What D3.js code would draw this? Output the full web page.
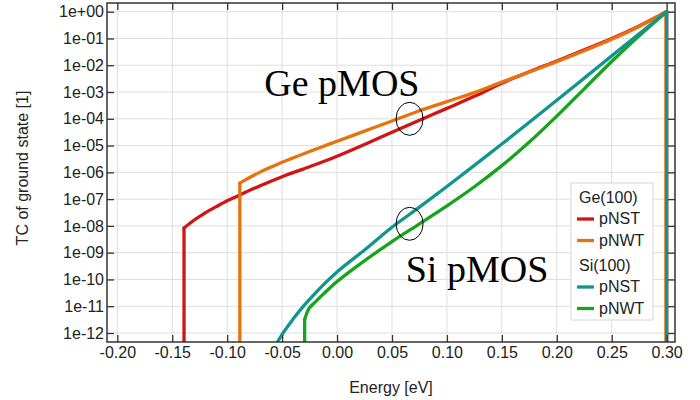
<!DOCTYPE html>
<html>
<head>
<meta charset="utf-8">
<script src="https://cdn.jsdelivr.net/npm/d3@7"></script>
<style>
  body { margin: 0; background: #fff; }
  svg { display: block; }
  text { font-family: "Liberation Sans", Arial, sans-serif; fill: #222; }
</style>
</head>
<body>
<div id="chart"></div>
<script>
// Energy [eV] and TC of ground state
const geNstE  = [-0.1393, -0.1393, -0.130, -0.120, -0.110, -0.100, -0.089, -0.070, -0.050, -0.025, 0.000, 0.025, 0.050, 0.075, 0.100, 0.125, 0.150, 0.175, 0.200, 0.225, 0.250, 0.275, 0.300, 0.300];
const geNstTC = [1e-13, 8.3e-9, 1.66e-8, 3.09e-8, 5.25e-8, 8.7e-8, 1.41e-7, 3.16e-7, 6.9e-7, 1.62e-6, 4.0e-6, 1.1e-5, 3.16e-5, 8.9e-5, 2.45e-4, 6.9e-4, 2.14e-3, 5.75e-3, 1.45e-2, 3.8e-2, 0.100, 0.295, 1, 1e-13];

const geNwtE  = [-0.0885, -0.0885, -0.080, -0.070, -0.060, -0.050, -0.040, -0.025, 0.000, 0.025, 0.050, 0.075, 0.100, 0.125, 0.150, 0.175, 0.200, 0.225, 0.250, 0.275, 0.2993, 0.2993];
const geNwtTC = [1e-13, 3.98e-7, 6.3e-7, 1.02e-6, 1.58e-6, 2.4e-6, 3.47e-6, 6.0e-6, 1.45e-5, 3.47e-5, 8.3e-5, 2.0e-4, 4.4e-4, 9.5e-4, 2.34e-3, 5.6e-3, 1.35e-2, 3.47e-2, 9.3e-2, 0.282, 1, 1e-13];

const siNstE  = [-0.058, -0.050, -0.040, -0.030, -0.020, -0.010, 0.000, 0.025, 0.050, 0.075, 0.100, 0.125, 0.150, 0.175, 0.200, 0.225, 0.250, 0.275, 0.300, 0.300];
const siNstTC = [2.5e-13, 8.9e-13, 3.3e-12, 1.07e-11, 3.0e-11, 7.9e-11, 1.9e-10, 1.26e-9, 8.9e-9, 5.0e-8, 2.95e-7, 1.82e-6, 1.15e-5, 7.4e-5, 4.9e-4, 3.3e-3, 2.24e-2, 0.151, 1, 1e-13];

const siNwtE  = [-0.0295, -0.0295, -0.027, -0.020, -0.010, 0.000, 0.025, 0.050, 0.075, 0.100, 0.125, 0.150, 0.175, 0.200, 0.225, 0.250, 0.275, 0.300];
const siNwtTC = [1e-13, 3.16e-12, 6.3e-12, 1.41e-11, 3.55e-11, 8.3e-11, 5.0e-10, 2.6e-9, 1.2e-8, 5.6e-8, 2.9e-7, 1.78e-6, 1.35e-5, 1.26e-4, 1.32e-3, 1.38e-2, 0.126, 1];

const xTicks = [-0.20, -0.15, -0.10, -0.05, 0.00, 0.05, 0.10, 0.15, 0.20, 0.25, 0.30];
const xTickLabels = ["-0.20", "-0.15", "-0.10", "-0.05", "0.00", "0.05", "0.10", "0.15", "0.20", "0.25", "0.30"];
const yTicks = [1e0, 1e-1, 1e-2, 1e-3, 1e-4, 1e-5, 1e-6, 1e-7, 1e-8, 1e-9, 1e-10, 1e-11, 1e-12];
const yTickLabels = ["1e+00", "1e-01", "1e-02", "1e-03", "1e-04", "1e-05", "1e-06", "1e-07", "1e-08", "1e-09", "1e-10", "1e-11", "1e-12"];

const groups = ["Ge(100)", "Si(100)"];
const series = [
  { group: "Ge(100)", name: "pNST", color: "#d11414", E: geNstE, TC: geNstTC },
  { group: "Ge(100)", name: "pNWT", color: "#e8720e", E: geNwtE, TC: geNwtTC },
  { group: "Si(100)", name: "pNST", color: "#11958f", E: siNstE, TC: siNstTC },
  { group: "Si(100)", name: "pNWT", color: "#17a31d", E: siNwtE, TC: siNwtTC }
];
// draw order: green under teal so the teal drop at 0.30 stays on top
const drawOrder = [0, 1, 3, 2];

// annotations in data coordinates
const labels = [
  { text: "Ge pMOS", E: -0.0662, TC: 7.1e-4 },
  { text: "Si pMOS", E: 0.0625, TC: 8.1e-11 }
];
const circles = [
  { E: 0.066, TC: 1e-4 },
  { E: 0.066, TC: 1.2e-8 }
];

const W = 700, H = 400;
const margin = { top: 3, right: 25, bottom: 58, left: 107 };
const width = W - margin.left - margin.right;
const height = H - margin.top - margin.bottom;

const x = d3.scaleLinear()
  .domain([-0.2094, 0.3076])
  .range([0, width]);

const y = d3.scaleLog()
  .domain([Math.pow(10, 0.325), Math.pow(10, -12.336)])
  .range([0, height]);

const svg = d3.select("#chart")
  .append("svg")
  .attr("width", W)
  .attr("height", H);

const g = svg.append("g")
  .attr("transform", `translate(${margin.left},${margin.top})`);

g.append("clipPath")
  .attr("id", "plot-clip")
  .append("rect")
  .attr("width", width)
  .attr("height", height);

// Grid
g.append("g")
  .selectAll("line")
  .data(xTicks)
  .enter()
  .append("line")
  .attr("x1", d => x(d))
  .attr("x2", d => x(d))
  .attr("y1", 0)
  .attr("y2", height)
  .style("stroke", "#dedede")
  .style("stroke-width", 1);

g.append("g")
  .selectAll("line")
  .data(yTicks)
  .enter()
  .append("line")
  .attr("x1", 0)
  .attr("x2", width)
  .attr("y1", d => y(d))
  .attr("y2", d => y(d))
  .style("stroke", "#dedede")
  .style("stroke-width", 1);

// Curves: smooth parts use a monotone curve, the vertical steps stay straight
const smoothLine = d3.line()
  .x(d => x(d[0]))
  .y(d => y(d[1]))
  .curve(d3.curveMonotoneX);

const stepLine = d3.line()
  .x(d => x(d[0]))
  .y(d => y(d[1]));

function splitRuns(pts) {
  const runs = [];
  let cur = [pts[0]];
  for (let k = 1; k < pts.length; k++) {
    if (pts[k][0] === pts[k - 1][0]) {
      if (cur.length > 1) runs.push({ smooth: true, pts: cur });
      runs.push({ smooth: false, pts: [pts[k - 1], pts[k]] });
      cur = [pts[k]];
    } else {
      cur.push(pts[k]);
    }
  }
  if (cur.length > 1) runs.push({ smooth: true, pts: cur });
  return runs;
}

const curves = g.append("g").attr("clip-path", "url(#plot-clip)");
drawOrder.forEach(i => {
  const s = series[i];
  const pts = s.E.map((e, k) => [e, s.TC[k]]);
  const sg = curves.append("g").attr("class", "series");
  splitRuns(pts).forEach(run => {
    sg.append("path")
      .datum(run.pts)
      .attr("d", run.smooth ? smoothLine : stepLine)
      .style("fill", "none")
      .style("stroke", s.color)
      .style("stroke-width", 3.3)
      .style("stroke-linecap", "round")
      .style("stroke-linejoin", "round");
  });
});

// Annotations
g.selectAll("text.note")
  .data(labels)
  .enter()
  .append("text")
  .attr("class", "note")
  .attr("x", d => x(d.E))
  .attr("y", d => y(d.TC))
  .style("font-family", "'Liberation Serif', 'Times New Roman', serif")
  .style("font-size", "38px")
  .style("fill", "#000")
  .text(d => d.text);

g.selectAll("ellipse")
  .data(circles)
  .enter()
  .append("ellipse")
  .attr("cx", d => x(d.E))
  .attr("cy", d => y(d.TC))
  .attr("rx", 13.5)
  .attr("ry", 16.5)
  .style("fill", "none")
  .style("stroke", "#000")
  .style("stroke-width", 1);

// Axes (ticks point inward)
const yAxis = d3.axisLeft(y)
  .tickValues(yTicks)
  .tickFormat(d => yTickLabels[yTicks.indexOf(d)])
  .tickSizeInner(-7)
  .tickSizeOuter(0)
  .tickPadding(3);
g.append("g")
  .attr("class", "y-axis")
  .call(yAxis);

const xAxis = d3.axisBottom(x)
  .tickValues(xTicks)
  .tickFormat(d => xTickLabels[xTicks.indexOf(d)])
  .tickSizeInner(-7)
  .tickSizeOuter(0)
  .tickPadding(5);
g.append("g")
  .attr("class", "x-axis")
  .attr("transform", `translate(0, ${height})`)
  .call(xAxis);

g.append("g")
  .attr("class", "x-axis-top")
  .call(d3.axisTop(x).tickValues(xTicks).tickFormat("").tickSizeInner(-7).tickSizeOuter(0));

g.append("g")
  .attr("class", "y-axis-right")
  .attr("transform", `translate(${width}, 0)`)
  .call(d3.axisRight(y).tickValues(yTicks).tickFormat("").tickSizeInner(-7).tickSizeOuter(0));

g.selectAll(".domain").remove();
g.selectAll(".tick line").style("stroke", "#333").style("stroke-width", 1.3);
g.selectAll(".tick text")
  .style("font-size", "16px")
  .style("font-family", "'Liberation Sans', Arial, sans-serif")
  .style("fill", "#222");

g.append("rect")
  .attr("width", width)
  .attr("height", height)
  .style("fill", "none")
  .style("stroke", "#333")
  .style("stroke-width", 1.5);

// Axis labels
g.append("text")
  .attr("class", "x-axis-label")
  .attr("x", 284)
  .attr("y", height + 51)
  .style("text-anchor", "middle")
  .style("font-size", "16px")
  .text("Energy [eV]");

g.append("text")
  .attr("class", "y-axis-label")
  .attr("transform", "rotate(-90)")
  .attr("x", -165)
  .attr("y", -79)
  .style("text-anchor", "middle")
  .style("font-size", "16px")
  .text("TC of ground state [1]");

// Legend
const legend = g.append("g")
  .attr("transform", `translate(${571 - margin.left}, ${183 - margin.top})`);

legend.append("rect")
  .attr("width", 82)
  .attr("height", 137)
  .style("fill", "#fff")
  .style("stroke", "#d6d6d6")
  .style("stroke-width", 1);

let rowY = 20;
groups.forEach((grp, gi) => {
  if (gi > 0) rowY += 4;
  legend.append("text")
    .attr("x", 8)
    .attr("y", rowY)
    .style("font-size", "16px")
    .text(grp);
  rowY += 21;
  series.filter(s => s.group === grp).forEach(s => {
    legend.append("line")
      .attr("x1", 6)
      .attr("x2", 23)
      .attr("y1", rowY - 5)
      .attr("y2", rowY - 5)
      .style("stroke", s.color)
      .style("stroke-width", 3.3);
    legend.append("text")
      .attr("x", 28)
      .attr("y", rowY)
      .style("font-size", "16px")
      .text(s.name);
    rowY += 21.5;
  });
});
</script>
</body>
</html>
